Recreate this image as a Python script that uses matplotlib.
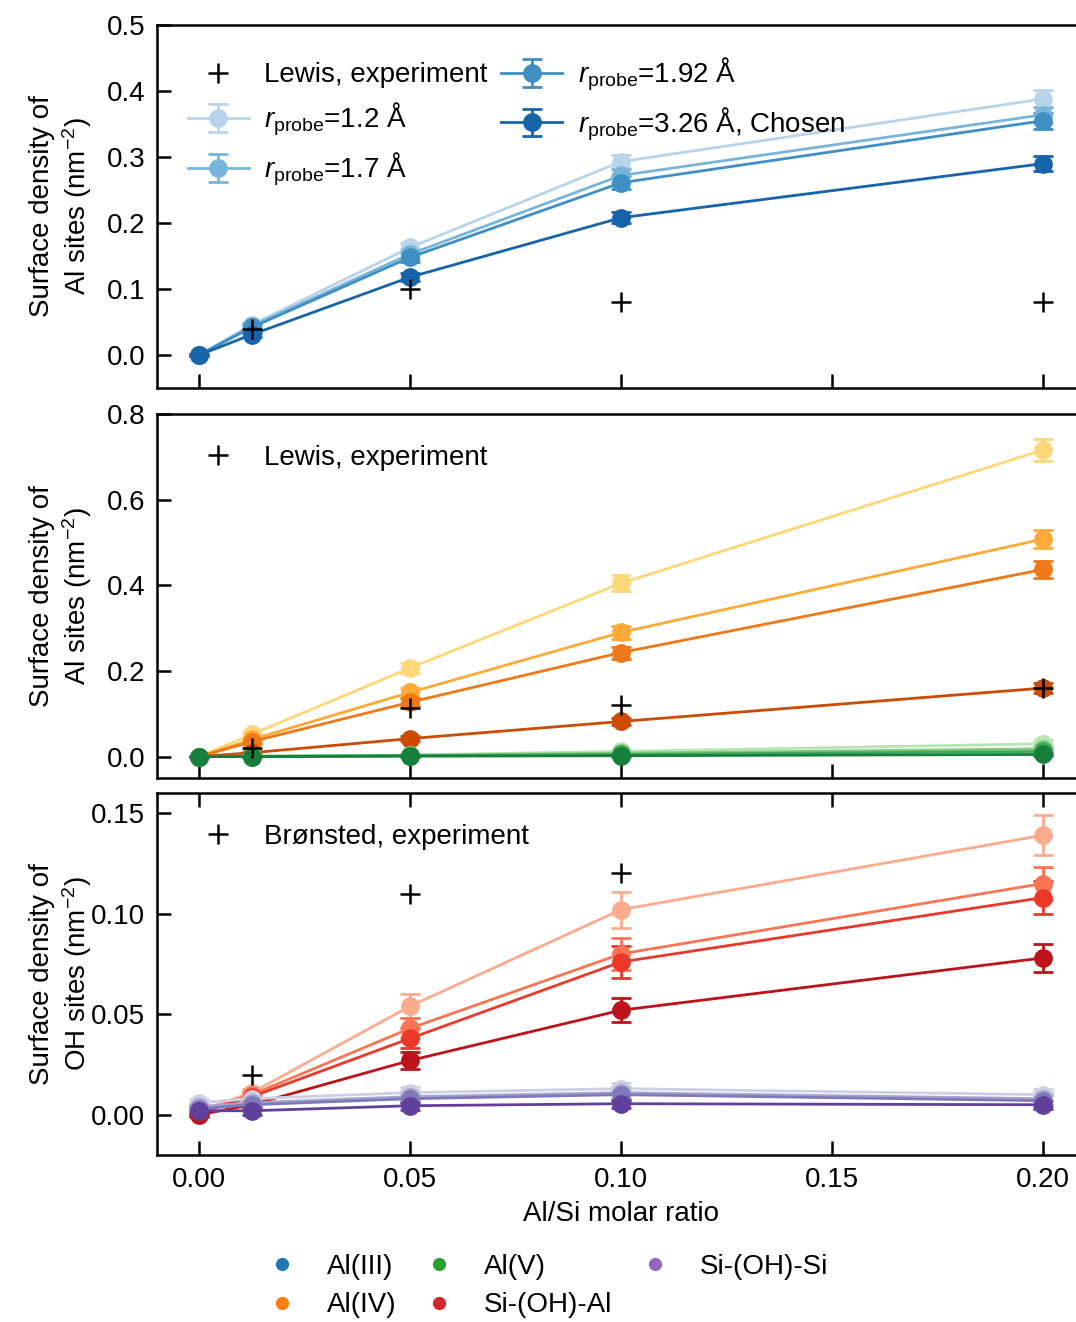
import numpy as np
import matplotlib
matplotlib.use("Agg")
import matplotlib.pyplot as plt
from matplotlib.lines import Line2D

plt.rcParams["font.family"] = ["Liberation Sans", "DejaVu Sans"]
plt.rcParams["mathtext.fontset"] = "custom"
plt.rcParams["mathtext.rm"] = "Liberation Sans"
plt.rcParams["mathtext.it"] = "Liberation Sans:italic"
plt.rcParams["mathtext.bf"] = "Liberation Sans:bold"

# Al/Si molar ratios of the models
ratio = [0.0, 0.0125, 0.05, 0.10, 0.20]

# ---- Al(III) densities for several probe radii ----
probe_labels = [r"$r_\mathrm{probe}$=1.2 Å", r"$r_\mathrm{probe}$=1.7 Å",
                r"$r_\mathrm{probe}$=1.92 Å", r"$r_\mathrm{probe}$=3.26 Å, Chosen"]
al3 = [
    [0.0, 0.046, 0.163, 0.293, 0.388],
    [0.0, 0.044, 0.153, 0.272, 0.364],
    [0.0, 0.042, 0.148, 0.261, 0.355],
    [0.0, 0.031, 0.118, 0.208, 0.290],
]
al3_err = [
    [0.001, 0.004, 0.007, 0.010, 0.013],
    [0.001, 0.004, 0.007, 0.010, 0.012],
    [0.001, 0.004, 0.007, 0.010, 0.012],
    [0.001, 0.003, 0.006, 0.008, 0.011],
]

# ---- Al(IV) and Al(V) densities ----
al4 = [
    [0.0, 0.052, 0.207, 0.405, 0.716],
    [0.0, 0.040, 0.150, 0.290, 0.508],
    [0.0, 0.035, 0.127, 0.243, 0.437],
    [0.0, 0.009, 0.042, 0.082, 0.160],
]
al4_err = [
    [0.001, 0.006, 0.012, 0.018, 0.025],
    [0.001, 0.005, 0.010, 0.016, 0.021],
    [0.001, 0.005, 0.009, 0.014, 0.019],
    [0.001, 0.002, 0.005, 0.008, 0.011],
]
al5 = [
    [0.0, 0.001, 0.004, 0.012, 0.030],
    [0.0, 0.001, 0.003, 0.008, 0.018],
    [0.0, 0.000, 0.002, 0.005, 0.012],
    [0.0, 0.000, 0.001, 0.002, 0.005],
]
al5_err = [
    [0.0, 0.001, 0.002, 0.004, 0.008],
    [0.0, 0.001, 0.002, 0.003, 0.006],
    [0.0, 0.001, 0.001, 0.002, 0.005],
    [0.0, 0.001, 0.001, 0.002, 0.003],
]

# ---- OH densities ----
sioh_al = [
    [0.002, 0.011, 0.054, 0.102, 0.139],
    [0.001, 0.010, 0.043, 0.080, 0.115],
    [0.001, 0.009, 0.038, 0.076, 0.108],
    [0.000, 0.005, 0.027, 0.052, 0.078],
]
sioh_al_err = [
    [0.001, 0.002, 0.006, 0.009, 0.010],
    [0.001, 0.002, 0.005, 0.008, 0.008],
    [0.001, 0.002, 0.005, 0.008, 0.008],
    [0.001, 0.002, 0.004, 0.006, 0.007],
]
sioh_si = [
    [0.006, 0.008, 0.011, 0.013, 0.010],
    [0.004, 0.006, 0.009, 0.011, 0.008],
    [0.003, 0.005, 0.008, 0.010, 0.007],
    [0.002, 0.002, 0.0045, 0.0055, 0.005],
]
sioh_si_err = [
    [0.002, 0.002, 0.003, 0.003, 0.003],
    [0.002, 0.002, 0.003, 0.003, 0.003],
    [0.002, 0.002, 0.002, 0.003, 0.003],
    [0.002, 0.002, 0.002, 0.002, 0.002],
]

# ---- experimental site densities ----
exp_ratio = [0.0125, 0.05, 0.10, 0.20]
lewis_exp_top = [0.040, 0.100, 0.080, 0.080]
lewis_exp_mid = [0.020, 0.113, 0.120, 0.160]
bronsted_ratio = [0.0125, 0.05, 0.10]
bronsted_exp = [0.020, 0.110, 0.120]

shades = np.linspace(0.3, 0.8, 4)
blues = [plt.cm.Blues(s) for s in shades]
oranges = [plt.cm.YlOrBr(s) for s in np.linspace(0.3, 0.75, 4)]
greens = [plt.cm.Greens(s) for s in shades]
reds = [plt.cm.Reds(s) for s in shades]
purples = [plt.cm.Purples(s) for s in shades]

FS = 20
fig = plt.figure(figsize=(10.76, 13.22), dpi=100)
W, H = 1076, 1322
left = 157 / W
width = (199 + 0.21 * 4220 - 157) / W
boxes = [(25, 388), (414, 778), (793, 1155)]
axes = [fig.add_axes([left, 1 - b / H, width, (b - t) / H]) for t, b in boxes]

line_kw = dict(marker="o", markersize=12.5, lw=2.0, capsize=7, capthick=2.0,
               elinewidth=2.0)
exp_kw = dict(ls="none", marker="+", color="black", markersize=14, mew=1.8, zorder=10)
leg_kw = dict(frameon=False, fontsize=FS, loc="upper left", handlelength=2.2,
              handletextpad=0.55, borderaxespad=0.7)


def series(ax, data, errs, colors, labels=None):
    handles = []
    for i, (y, e, c) in enumerate(zip(data, errs, colors)):
        lab = labels[i] if labels else None
        h = ax.errorbar(ratio, y, yerr=e, color=c, mec=c, label=lab, **line_kw)
        handles.append(h)
    return handles


# top panel: Al(III) for different probe radii
ax = axes[0]
hs = series(ax, al3, al3_err, blues, probe_labels)
he, = ax.plot(exp_ratio, lewis_exp_top, label="Lewis, experiment", **exp_kw)
ax.legend([he] + hs, ["Lewis, experiment"] + probe_labels, ncol=2,
          columnspacing=0.5, labelspacing=0.45, **leg_kw)
ax.set_ylim(-0.05, 0.5)
ax.set_yticks([0.0, 0.1, 0.2, 0.3, 0.4, 0.5])

# middle panel: Al(IV) and Al(V)
ax = axes[1]
series(ax, al4, al4_err, oranges)
series(ax, al5, al5_err, greens)
he, = ax.plot(exp_ratio, lewis_exp_mid, label="Lewis, experiment", **exp_kw)
ax.legend([he], ["Lewis, experiment"], **leg_kw)
ax.set_ylim(-0.05, 0.8)
ax.set_yticks([0.0, 0.2, 0.4, 0.6, 0.8])

# bottom panel: bridging OH groups
ax = axes[2]
series(ax, sioh_al, sioh_al_err, reds)
series(ax, sioh_si, sioh_si_err, purples)
he, = ax.plot(bronsted_ratio, bronsted_exp, label="Brønsted, experiment", **exp_kw)
ax.legend([he], ["Brønsted, experiment"], **leg_kw)
ax.set_ylim(-0.02, 0.16)
ax.set_yticks([0.0, 0.05, 0.10, 0.15])
ax.set_yticklabels(["0.00", "0.05", "0.10", "0.15"])
ax.set_xlabel("Al/Si molar ratio", fontsize=FS, labelpad=6)
ax.tick_params(axis="x", top=True)

for i, ax in enumerate(axes):
    ax.set_xlim(-0.01, 0.21)
    ax.set_xticks([0.0, 0.05, 0.10, 0.15, 0.20])
    ax.tick_params(direction="in", length=10, width=1.8, labelsize=FS, pad=8.5)
    for s in ax.spines.values():
        s.set_linewidth(1.8)
    if i < 2:
        ax.set_xticklabels([])
    else:
        ax.set_xticklabels(["0.00", "0.05", "0.10", "0.15", "0.20"])

axes[0].set_ylabel("Surface density of\nAl sites (nm$^{-2}$)", fontsize=FS)
axes[1].set_ylabel("Surface density of\nAl sites (nm$^{-2}$)", fontsize=FS)
axes[2].set_ylabel("Surface density of\nOH sites (nm$^{-2}$)", fontsize=FS)
for ax in axes:
    ax.yaxis.set_label_coords(-0.068, 0.5)

# site-type legend below the panels
site_names = ["Al(III)", "Al(IV)", "Al(V)", "Si-(OH)-Al", "Si-(OH)-Si"]
site_colors = ["#1f77b4", "#ff7f0e", "#2ca02c", "#d62728", "#9467bd"]
site_handles = [Line2D([], [], ls="none", marker="o", markersize=9.5, color=c,
                       markeredgewidth=0) for c in site_colors]
fig.legend(site_handles, site_names, ncol=3, frameon=False, fontsize=FS,
           loc="upper center", bbox_to_anchor=(0.503, 0.0705), columnspacing=0.55,
           handlelength=2.0, handletextpad=0.6, labelspacing=0.45)

fig.savefig("out.png", dpi=100)
